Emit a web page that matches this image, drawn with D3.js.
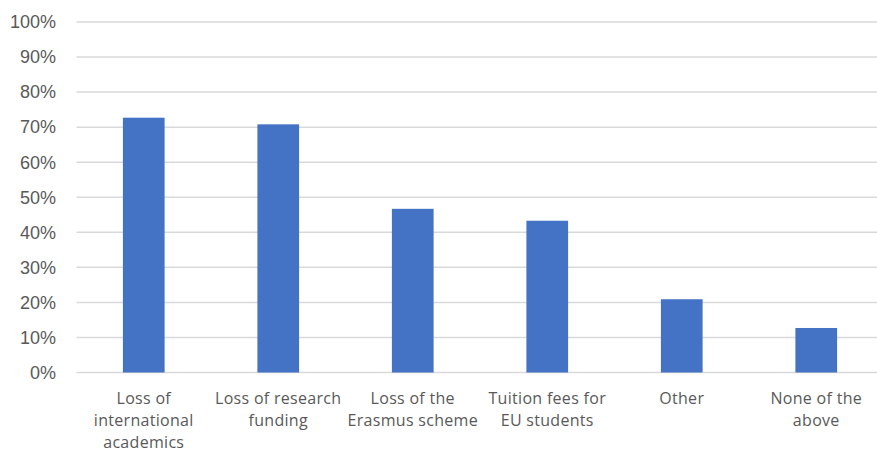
<!DOCTYPE html>
<html>
<head>
<meta charset="utf-8">
<script src="https://cdn.jsdelivr.net/npm/d3@7"></script>
<style>
  body { margin: 0; background: #fff; }
  svg { display: block; }
</style>
</head>
<body>
<svg id="chart" width="877" height="450"></svg>
<script>
var categories = [
    ["Loss of", "international", "academics"],
    ["Loss of research", "funding"],
    ["Loss of the", "Erasmus scheme"],
    ["Tuition fees for", "EU students"],
    ["Other"],
    ["None of the", "above"]
];
var values = [72.7, 70.8, 46.7, 43.3, 20.9, 12.7];
var yTicks = [0, 10, 20, 30, 40, 50, 60, 70, 80, 90, 100];

var svg = d3.select("#chart");

var x = d3.scaleBand()
    .domain(d3.range(categories.length))
    .range([76.5, 883.5])
    .paddingInner(0.69)
    .paddingOuter(0.345);

var y = d3.scaleLinear()
    .domain([0, 100])
    .range([372.5, 22]);

// gridlines
svg.append("g")
    .selectAll("line")
    .data(yTicks)
    .join("line")
    .attr("x1", 76.5)
    .attr("x2", 877)
    .attr("y1", function(d){ return y(d); })
    .attr("y2", function(d){ return y(d); })
    .attr("stroke", "#d9d9d9")
    .attr("stroke-width", 1.5);

// y tick labels
svg.append("g")
    .selectAll("text")
    .data(yTicks)
    .join("text")
    .attr("x", 56)
    .attr("y", function(d){ return y(d); })
    .attr("dy", "0.35em")
    .attr("text-anchor", "end")
    .attr("font-family", "Liberation Sans, Arial, sans-serif")
    .attr("font-size", 18)
    .attr("fill", "#595959")
    .text(function(d){ return d + "%"; });

// bars
svg.append("g")
    .selectAll("rect")
    .data(values)
    .join("rect")
    .attr("x", function(d, i){ return x(i); })
    .attr("width", x.bandwidth())
    .attr("y", function(d){ return y(d); })
    .attr("height", function(d){ return y(0) - y(d); })
    .attr("fill", "#4472c4");

// category labels
var labels = svg.append("g")
    .selectAll("text")
    .data(categories)
    .join("text")
    .attr("text-anchor", "middle")
    .attr("font-family", "Open Sans, sans-serif")
    .attr("font-size", 16)
    .attr("letter-spacing", 0.3)
    .attr("fill", "#595959");

labels.selectAll("tspan")
    .data(function(d, i){ return d.map(function(t){ return {t: t, i: i}; }); })
    .join("tspan")
    .attr("x", function(d){ return x(d.i) + x.bandwidth() / 2; })
    .attr("y", function(d, j){ return 403.5 + j * 22; })
    .text(function(d){ return d.t; });
</script>
</body>
</html>
